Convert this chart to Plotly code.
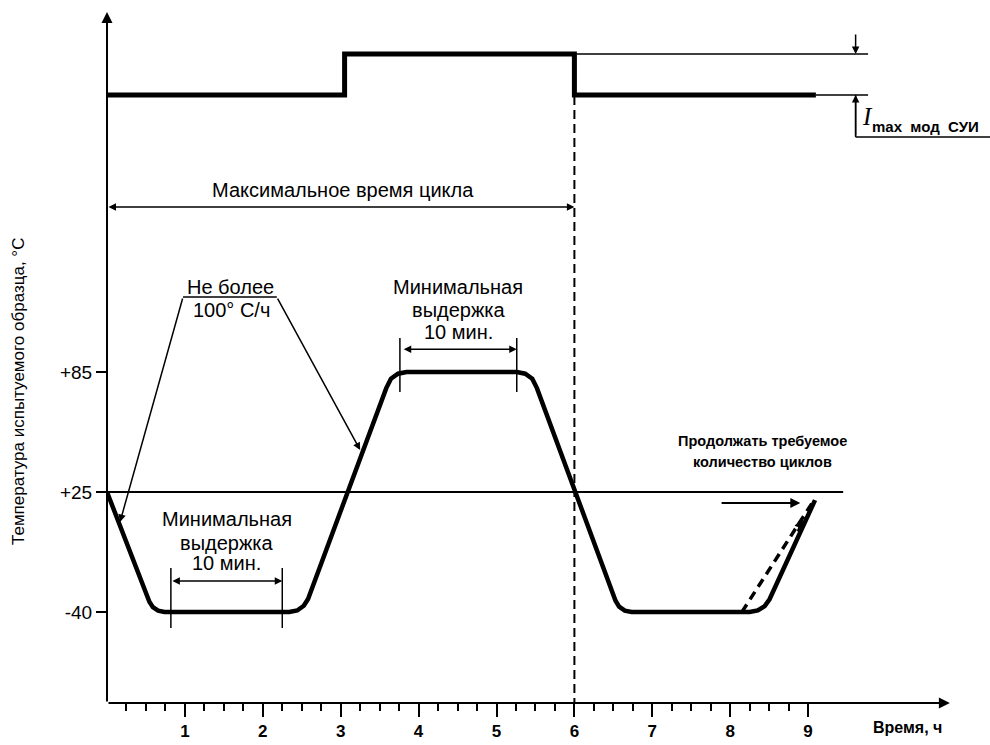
import plotly.graph_objects as go

# ---- data (time in hours; y in schematic levels: 0 = -40, 1 = +25, 2 = +85) ----
temp_hours = [0, 0.544, 0.589, 0.656, 0.737, 2.340, 2.442, 2.526, 2.581, 3.585, 3.645,
              3.736, 3.845, 5.260, 5.368, 5.459, 5.519, 6.528, 6.574, 6.647, 6.734,
              8.249, 8.354, 8.443, 8.505, 9.089]
temp_levels = [1.0, 0.086, 0.041, 0.011, 0.0, 0.0, 0.013, 0.0525, 0.109, 1.866, 1.944,
               1.986, 2.0, 2.0, 1.986, 1.944, 1.866, 0.094, 0.045, 0.012, 0.0,
               0.0, 0.013, 0.05, 0.106, 0.933]
alt_hours = [8.15, 9.06]
alt_levels = [0.0, 0.917]
current_hours = [0, 3.05, 6.0, 9.1]
current_levels = [4.308, 4.65, 4.308, 4.308]
ref_line_hours = [0, 9.45]
ref_line_levels = [1.0, 1.0]
ytick_vals = [0, 1, 2]
ytick_text = ["-40", "+25", "+85"]
xtick_vals = [1, 2, 3, 4, 5, 6, 7, 8, 9]
xtick_text = ["1", "2", "3", "4", "5", "6", "7", "8", "9"]
minor_vals = [0.25, 0.5, 0.75, 1.25, 1.5, 1.75, 2.25, 2.5, 2.75, 3.25, 3.5, 3.75,
              4.25, 4.5, 4.75, 5.25, 5.5, 5.75, 6.25, 6.5, 6.75, 7.25, 7.5, 7.75,
              8.25, 8.5, 8.75, 9.0]

FONT = "Liberation Sans, Arial, sans-serif"
BLACK = "#000000"

W, H = 990, 745
L, B = 107, 42
XMAX = 11.335
YMIN, YMAX = -0.758, 5.1

fig = go.Figure()


def line(xs, ys, width=2.0, dash=None, shape="linear"):
    ln = dict(color=BLACK, width=width, shape=shape)
    if dash:
        ln["dash"] = dash
    fig.add_trace(go.Scatter(x=xs, y=ys, mode="lines", line=ln,
                             hoverinfo="skip", showlegend=False))


# +25 reference line
line(ref_line_hours, ref_line_levels, width=2)
# cycle-end dashed marker
line([6.0, 6.0], [current_levels[1], YMIN], width=2, dash="9px,5px")
# temperature profile
line(temp_hours, temp_levels, width=4.5)
# alternative (dashed) ramp
line(alt_hours, alt_levels, width=3.5, dash="9px,6px")
# current waveform
line(current_hours, current_levels, width=5, shape="hv")
# thin continuation of current levels
line([6.0, 9.77], [current_levels[1], current_levels[1]], width=1.5)
line([9.1, 9.77], [current_levels[3], current_levels[3]], width=1.5)
# current dimension leader
line([9.61, 9.61], [current_levels[3], 3.958], width=1.5)
line([9.61, XMAX], [3.958, 3.958], width=1.5)
# dimension ticks (10 min holds)
line([0.82, 0.82], [0.367, -0.133], width=1.5)
line([2.25, 2.25], [0.367, -0.133], width=1.5)
line([3.76, 3.76], [2.283, 1.833], width=1.5)
line([5.26, 5.26], [2.283, 1.833], width=1.5)
# "Не более" bracket
line([0.976, 2.18], [2.625, 2.625], width=1.5)

anns = []


def arrow(x0, y0, x1, y1, width=1.5, side="end", head=2, size=1.0):
    anns.append(dict(x=x1, y=y1, ax=x0, ay=y0, xref="x", yref="y", axref="x", ayref="y",
                     text="", showarrow=True, arrowhead=head, arrowside=side,
                     startarrowhead=head, arrowsize=size, startarrowsize=size,
                     arrowwidth=width, arrowcolor=BLACK, standoff=0, startstandoff=0))


def text(x, y, s, size=20, family=FONT, xref="x", yref="y", **kw):
    d = dict(x=x, y=y, xref=xref, yref=yref, text=s, showarrow=False,
             xanchor="center", yanchor="middle",
             font=dict(family=family, size=size, color=BLACK))
    d.update(kw)
    anns.append(d)


# axes with arrows
arrow(0, YMIN, 10.82, YMIN, width=2, size=1.1)
arrow(0, YMIN, 0, 5.0, width=2, size=1.1)
# maximum cycle time
arrow(0, 3.375, 6.0, 3.375, width=1.5, side="end+start")
text(3.03, 3.52, "Максимальное время цикла")
# hold dimension arrows
arrow(0.82, 0.258, 2.25, 0.258, side="end+start")
arrow(3.79, 2.19, 5.26, 2.19, side="end+start")
# rate leaders
arrow(0.976, 2.625, 0.167, 0.75)
arrow(2.18, 2.625, 3.25, 1.35)
# continue arrow
arrow(7.87, 0.908, 8.90, 0.908, width=2)
arrow(8.86, 0.66, 8.93, 0.783, width=2)
# current dimension arrows
arrow(9.61, 4.825, 9.61, current_levels[1], width=1.5)
arrow(9.61, 3.958, 9.61, current_levels[3], width=1.5)

text(1.58, 2.708, "Не более")
text(1.60, 2.517, "100° С/ч")
text(4.506, 2.708, "Минимальная")
text(4.506, 2.517, "выдержка")
text(4.506, 2.333, "10 мин.")
text(1.54, 0.775, "Минимальная")
text(1.54, 0.575, "выдержка")
text(1.54, 0.408, "10 мин.")
text(8.41, 1.425, "<b>Продолжать требуемое</b>", size=14.5)
text(8.41, 1.25, "<b>количество циклов</b>", size=14.5)
text(9.756, 4.13, "<i>I</i>", size=25, family="Liberation Serif, Times New Roman, serif")
text(9.80, 4.05, "<b>max  мод  СУИ</b>", size=15, xanchor="left")

# axis titles
text((18 - L) / (W - L), (703 - 392) / 703, "Температура испытуемого образца, °С",
     xref="paper", yref="paper", textangle=-90, size=17)
text((907 - L) / (W - L), (703 - 727) / 703, "<b>Время, ч</b>", xref="paper", yref="paper",
     size=16)

fig.update_layout(
    width=W, height=H,
    margin=dict(l=L, r=0, t=0, b=B, pad=0),
    plot_bgcolor="white", paper_bgcolor="white",
    annotations=anns,
    showlegend=False,
    xaxis=dict(range=[0, XMAX], showgrid=False, zeroline=False, showline=False,
               tickmode="array", tickvals=xtick_vals, ticktext=xtick_text,
               ticks="outside", ticklen=13, tickwidth=1.5, tickcolor=BLACK,
               ticklabelstandoff=0,
               tickfont=dict(family=FONT, size=17, color=BLACK, weight="bold"),
               minor=dict(tickmode="array", tickvals=minor_vals, ticks="outside",
                          ticklen=7, tickwidth=1.5, tickcolor=BLACK, showgrid=False)),
    yaxis=dict(range=[YMIN, YMAX], showgrid=False, zeroline=False, showline=False,
               tickmode="array", tickvals=ytick_vals, ticktext=ytick_text,
               ticks="outside", ticklen=10, tickwidth=2, tickcolor=BLACK,
               tickfont=dict(family=FONT, size=19, color=BLACK)),
)

fig.write_html("out.html", config={"displayModeBar": False},
               post_script="document.body.style.margin='0px';"
                           "document.body.style.overflow='hidden';")
